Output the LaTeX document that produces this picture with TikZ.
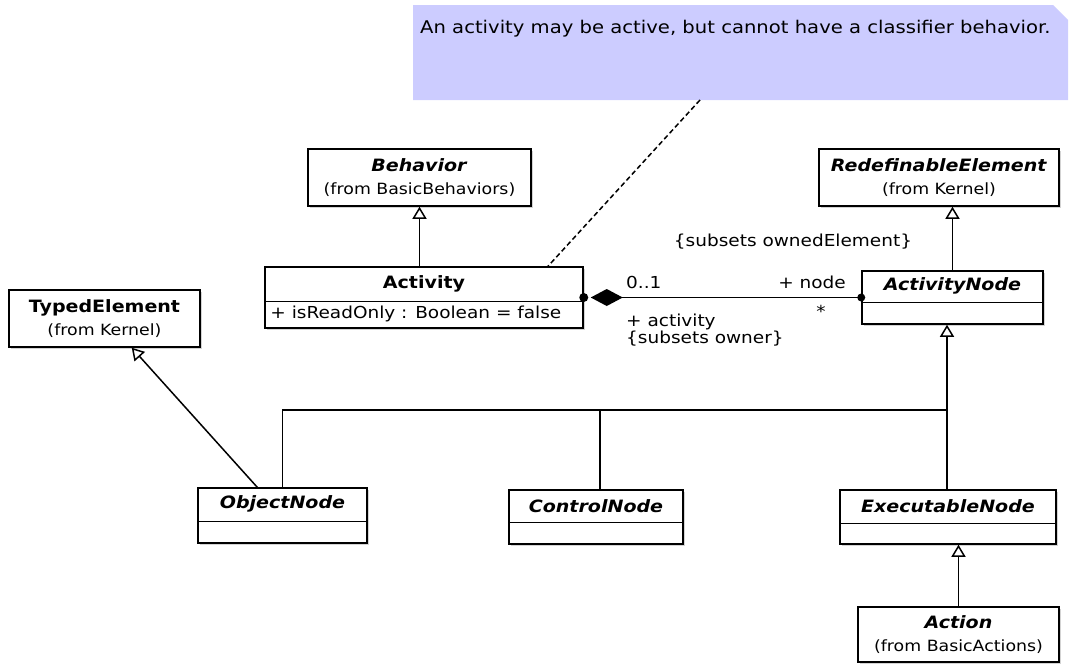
\documentclass[tikz,border=0pt]{standalone}
\usepackage{fontspec}
\setmainfont{DejaVu Sans}[FakeStretch=1.12]
\usetikzlibrary{arrows.meta,shadows}
\definecolor{notefill}{RGB}{204,204,255}
\newcommand*\umlclass[7][]{%
    % #2: name, #3/#4: left/top, #5/#6: right/bottom, #7: text
    \node[cls,minimum width={#5-#3},minimum height={#6-#4},#1] (#2) at ({(#3+#5)/2},{(#4+#6)/2}) {#7};
}
\newcommand*\titletext[1]{{\fontsize{17}{23}\selectfont\bfseries #1}}

\begin{document}
\begin{tikzpicture}[x=1pt,y=-1pt,
    cls/.style={draw,line width=1.5pt,fill=white,inner sep=0pt,align=center,
        font=\fontsize{15.5}{23}\selectfont,
        drop shadow={shadow xshift=2pt,shadow yshift=-2pt,opacity=.35}},
    ctitle/.style={inner sep=0pt,font=\fontsize{17}{20}\selectfont\bfseries},
    lbl/.style={inner sep=0pt,font=\fontsize{16.5}{19}\selectfont},
    gen/.style={line width=1.5pt,-{Triangle[open,fill=white,length=12pt,width=14pt]}},
    assoc/.style={line width=1.5pt},
    notelink/.style={line width=1.5pt,dash pattern=on 5pt off 3pt}]
    \useasboundingbox (0,0) rectangle (1072,664);
    % the comment
    \fill[notefill] (413,5) -- (1053,5) -- (1068,20) -- (1068,100) -- (413,100) -- cycle;
    \node[lbl,anchor=west,font=\fontsize{17.5}{21}\selectfont] (note) at (420,29) {An activity may be active, but cannot have a classifier behavior.};
    \coordinate (notefoot) at (700,100);
    % classes
    \umlclass{behavior}{308}{149}{531}{206}{\titletext{\textit{Behavior}}\\(from BasicBehaviors)}
    \umlclass{redef}{819}{149}{1059}{206}{\titletext{\textit{RedefinableElement}}\\(from Kernel)}
    \umlclass{typed}{9}{290}{200}{347}{\titletext{TypedElement}\\(from Kernel)}
    \umlclass{action}{858}{607}{1059}{662}{\titletext{\textit{Action}}\\(from BasicActions)}
    \umlclass{activity}{265}{267}{583}{328}{}
    \umlclass{actnode}{862}{271}{1043}{324}{}
    \umlclass{objnode}{198}{488}{367}{543}{}
    \umlclass{ctrlnode}{509}{490}{683}{544}{}
    \umlclass{execnode}{840}{490}{1056}{544}{}
    \foreach \cname/\cdepth/\clabel in {activity/35/{Activity},actnode/32/{\textit{ActivityNode}},
        objnode/34/{\textit{ObjectNode}},ctrlnode/33/{\textit{ControlNode}},execnode/34/{\textit{ExecutableNode}}}{
        \draw[line width=1.5pt] ([yshift=-\cdepth]\cname.north west) -- ([yshift=-\cdepth]\cname.north east);
        \node[ctitle] (\cname-name) at ([yshift=-\cdepth/2]\cname.north) {\clabel};
    }
    \node[lbl,anchor=west] (activity-attr) at ([xshift=6,yshift=-48]activity.north west) {+ isReadOnly : Boolean = false};
    % generalizations
    \draw[gen] (behavior.south |- activity.north) -- (behavior.south);
    \draw[gen] (actnode.north) -- (actnode.north |- redef.south);
    \draw[gen] (action.north) -- (action.north |- execnode.south);
    \coordinate (branch) at (947,410);
    \coordinate (ctrldrop) at (600,410);
    \draw[gen] (execnode.north -| branch) -- (actnode.south -| branch);
    \draw[assoc] (objnode.north) |- (branch);
    \draw[assoc] (ctrldrop) -- (ctrldrop |- ctrlnode.north);
    \draw[gen] ([xshift=60]objnode.north west) -- ([xshift=-69]typed.south east);
    % composition
    \draw[assoc,{Diamond[length=32pt,width=17pt]}-,shorten <=7pt] (activity.east) -- (actnode.west);
    \fill (activity.east) circle[radius=4.5pt];
    \fill (actnode.west) circle[radius=4pt];
    \node[lbl,anchor=west] (mult-a) at (626,282) {0..1};
    \node[lbl,anchor=east] (role-n) at (846,282) {+ node};
    \node[lbl] (mult-n) at (821,311) {*};
    \node[lbl] (subset-n) at (793,242) {\{subsets ownedElement\}};
    \node[lbl,anchor=west] (role-a) at (626,322) {+ activity};
    \node[lbl,anchor=west] (subset-a) at (626,339) {\{subsets owner\}};
    % note anchor
    \draw[notelink] (notefoot) -- ([xshift=124]activity.north);
\end{tikzpicture}
\end{document}
